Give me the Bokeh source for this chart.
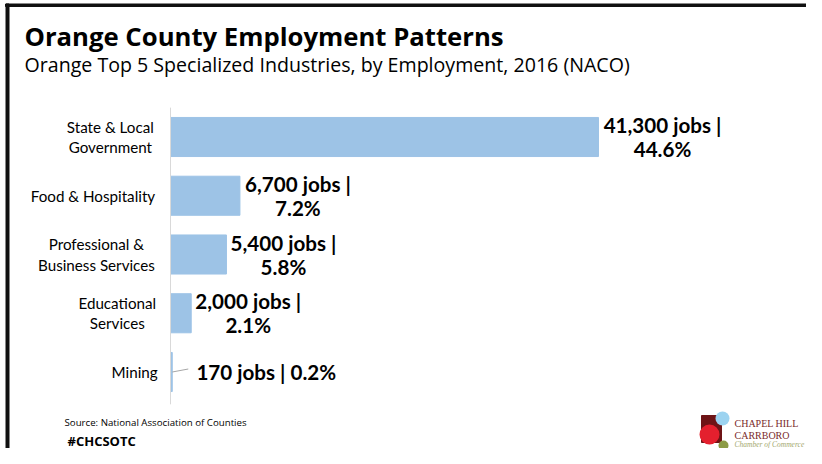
from bokeh.plotting import figure
from bokeh.models import Range1d, ColumnDataSource
from bokeh.embed import file_html
from bokeh.resources import INLINE
from bokeh.core.properties import value

# ---------------- data ----------------
categories = ["State & Local\nGovernment", "Food & Hospitality",
              "Professional &\nBusiness Services", "Educational\nServices", "Mining"]
jobs = [41300, 6700, 5400, 2000, 170]
shares = [44.6, 7.2, 5.8, 2.1, 0.2]

title = "Orange County Employment Patterns"
subtitle = "Orange Top 5 Specialized Industries, by Employment, 2016 (NACO)"
source_note = "Source: National Association of Counties"
hashtag = "#CHCSOTC"
logo_lines = ["CHAPEL HILL", "CARRBORO", "Chamber of Commerce"]

# ---------------- layout / style ----------------
W, H = 806, 448
X0 = 170                  # px where zero jobs sits
PX_PER_JOB = 428 / 41300  # horizontal scale
Y0 = 136.5                # px centre of first band
BAND = 58.75              # px per category band
LABEL_DX = [64, 58, 57, 57, 94]    # px offset of value-label centre from bar end
BAR_COLOR = "#9DC3E6"
CAT_CHAR_W = 6.95

p = figure(width=W, height=H, x_range=Range1d(0, W), y_range=Range1d(H, 0),
           toolbar_location=None, output_backend="svg", min_border=0,
           x_axis_location=None, y_axis_location=None, outline_line_color=None)
p.grid.visible = False
p.extra_x_ranges = {"jobs": Range1d(-X0 / PX_PER_JOB, (W - X0) / PX_PER_JOB)}
p.extra_y_ranges = {"cat": Range1d((H - Y0) / BAND, -Y0 / BAND)}

idx = list(range(len(categories)))

def label_text(j, s):
    if j >= 1000:
        return f"{j:,} jobs |\n{s}%"
    return f"{j:,} jobs | {s}%"

src = ColumnDataSource(dict(
    idx=idx, cat=categories, jobs=jobs,
    lab=[label_text(j, s) for j, s in zip(jobs, shares)],
    dx=LABEL_DX,
    cdx=[-(15 + 0.5 * CAT_CHAR_W * max(len(t) for t in c.split("\n"))) for c in categories],
))

# slide edge border
p.quad(left=[5], right=[W], top=[3.5], bottom=[6], color="#111111")
p.quad(left=[5.5], right=[8.5], top=[3.5], bottom=[H], color="#111111")

# bars
p.hbar(y="idx", left=0, right="jobs", height=0.665, source=src,
       x_range_name="jobs", y_range_name="cat", color=BAR_COLOR)

# category axis line
p.segment(x0=[0], x1=[0], y0=[-0.5], y1=[len(categories) - 0.45],
          x_range_name="jobs", y_range_name="cat", line_color="#D9D9D9", line_width=1)

# leader lines for small labels
small = [i for i, j in enumerate(jobs) if j < 1000]
p.segment(x0=[jobs[i] for i in small], x1=[jobs[i] + 16 / PX_PER_JOB for i in small],
          y0=[i for i in small], y1=[i - 3 / BAND for i in small],
          x_range_name="jobs", y_range_name="cat", line_color="#A6A6A6", line_width=1)

# category labels
p.text(x=0, y="idx", text="cat", source=src, x_offset="cdx",
       x_range_name="jobs", y_range_name="cat",
       text_align="center", text_baseline="middle", text_line_height=1.12,
       text_font=value("Lato"), text_font_size="15.2px", text_color="#000000")

# value labels
p.text(x="jobs", y="idx", text="lab", source=src, x_offset="dx",
       x_range_name="jobs", y_range_name="cat",
       text_align="center", text_baseline="middle", text_line_height=1.0,
       text_font=value("Lato"), text_font_style="bold", text_font_size="20.6px",
       text_color="#000000")

# titles
p.text(x=[24], y=[36], text=[title], text_font=value("Open Sans"), text_font_style="bold",
       text_font_size="25.7px", text_color="#000000", text_baseline="alphabetic")
p.text(x=[24], y=[63.5], text=[subtitle], text_font=value("Open Sans"),
       text_font_size="19.6px", text_color="#000000", text_baseline="alphabetic")

# footer
p.text(x=[64], y=[421.5], text=[source_note], text_font=value("Open Sans"),
       text_font_size="9.7px", text_color="#000000", text_baseline="alphabetic")
p.text(x=[67], y=[440], text=[hashtag], text_font=value("Open Sans"), text_font_style="bold",
       text_font_size="13px", text_color="#000000", text_baseline="alphabetic")

# logo
p.quad(left=[701], right=[721], top=[415], bottom=[442], color="#6E1416")
p.scatter(x=[722], y=[418], size=14, color="#9CD3F0", line_color=None)
p.scatter(x=[709], y=[434], size=20, color="#E4202E", line_color=None)
p.scatter(x=[723], y=[445], size=10, color="#8C9B45", line_color=None)
p.text(x=[734, 734], y=[422.5, 434.5], text=logo_lines[:2], text_font=value("Liberation Serif"),
       text_font_size="10px", text_color="#7A2A2A", text_baseline="alphabetic")
p.text(x=[734], y=[444], text=logo_lines[2:], text_font=value("Liberation Serif"),
       text_font_style="italic", text_font_size="7.5px", text_color="#A3A86E",
       text_baseline="alphabetic")

open("out.html", "w").write(file_html(p, INLINE))
